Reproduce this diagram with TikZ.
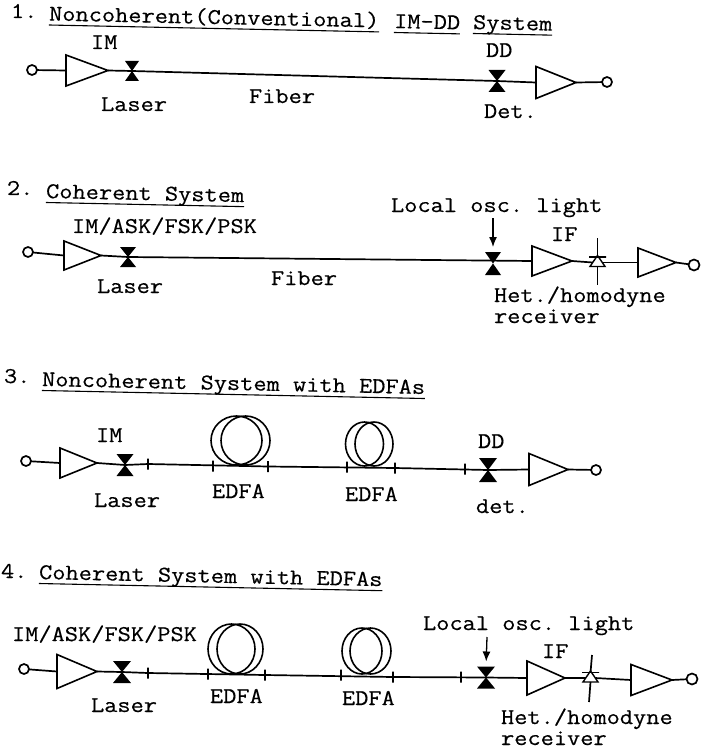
\documentclass[tikz,border=0pt]{standalone}
\usepackage{fontspec}
\setmonofont{Latin Modern Mono}[FakeStretch=1.14,FakeBold=0.4]
\usepackage{tikz}
\usetikzlibrary{arrows.meta,positioning,shapes.geometric}
\tikzset{
  lbl/.style={anchor=base west, inner sep=0pt, outer sep=0pt, font=\fontsize{22.5}{24}\selectfont\ttfamily},
  ttl/.style={lbl, rotate=-1.2, text depth=4.5pt},
  rule/.style={line width=1.1pt},
  wire/.style={line width=1.7pt},
  amp/.style 2 args={draw, line width=1.6pt, isosceles triangle, isosceles triangle stretches, inner sep=0pt, outer sep=0pt, minimum height=#1pt, minimum width=#2pt, anchor=west},
  port/.style={draw, line width=1.7pt, circle, inner sep=0pt, outer sep=0pt, minimum size=10pt},
  bowtie/.style={inner sep=0pt, outer sep=0pt, minimum width=17pt, minimum height=22pt,
    path picture={\fill (path picture bounding box.north west) -- (path picture bounding box.north east)
      -- (path picture bounding box.south west) -- (path picture bounding box.south east) -- cycle;}},
  tick/.style={draw, line width=1.5pt, inner sep=0pt, outer sep=0pt, minimum width=0pt, minimum height=11pt},
  coil/.style={draw, line width=1.6pt, ellipse, inner sep=0pt, outer sep=0pt},
  diode/.style={draw, line width=1.4pt, isosceles triangle, isosceles triangle stretches, shape border rotate=90, inner sep=0pt, outer sep=0pt, minimum width=15pt, minimum height=11pt},
  dbar/.style={draw, line width=1.5pt, inner sep=0pt, outer sep=0pt, minimum width=17pt, minimum height=0pt},
  arr/.style={-{Latex[length=10pt,width=8pt]}, line width=1.3pt, shorten >=5pt}
}
\begin{document}
\begin{tikzpicture}[x=1pt,y=-1pt]
\useasboundingbox (0,0) rectangle (701,751);
\fill[white] (0,0) rectangle (701,751);

\node[lbl] (num1) at (11,18) {1.};
\node[ttl] (ttl1a) at (49,20.5) {Noncoherent(Conventional)};
\node[ttl] (ttl1b) at (394,28) {IM-DD};
\node[ttl] (ttl1c) at (473,29) {System};
\draw[rule] (ttl1a.south west) -- (ttl1a.south east);
\draw[rule] (ttl1b.south west) -- (ttl1b.south east);
\draw[rule] (ttl1c.south west) -- (ttl1c.south east);
\node[port] (in1) at (32,70) {};
\node[amp={42}{31}] (amp1a) at (66,70.5) {};
\node[bowtie, minimum width=14pt, minimum height=20pt] (las1) at (132,71) {};
\node[bowtie] (det1) at (497,81) {};
\node[amp={40}{32}] (amp1b) at (536,82.5) {};
\node[port] (out1) at (607,82) {};
\draw[wire] (in1) -- (amp1a.west);
\draw[wire] (amp1a.east) -- (las1.center) -- (det1.center) -- (amp1b.west);
\draw[wire] (amp1b.east) -- (out1);
\node[lbl] (im1) at (91,49) {IM};
\node[lbl] (laser1) at (101,111) {Laser};
\node[lbl] (fiber1) at (249,103) {Fiber};
\node[lbl] (dd1) at (486,57) {DD};
\node[lbl] (det1t) at (484,118) {Det.};

\node[lbl] (num2) at (7,195) {2.};
\node[ttl] (ttl2) at (46,198) {Coherent System};
\draw[rule] (ttl2.south west) -- (ttl2.south east);
\node[port] (in2) at (28,252) {};
\node[amp={37}{29}] (amp2a) at (64,255.5) {};
\node[bowtie, minimum width=16pt, minimum height=20pt] (las2) at (128,257) {};
\node[bowtie, minimum width=16pt, minimum height=23pt] (det2) at (493,263.5) {};
\node[amp={40}{30}] (amp2b) at (532,261) {};
\node[diode] (dio2) at (597.5,262.5) {};
\node[dbar] (bar2) at (597.5,257) {};
\node[amp={38}{29}] (amp2c) at (638,262.5) {};
\node[port, minimum width=8pt, minimum height=11pt] (out2) at (694,265) {};
\coordinate (osc2) at (493,218);
\coordinate (up2) at (597.5,238);
\coordinate (dn2) at (597.5,285);
\draw[wire] (in2) -- (amp2a.west);
\draw[wire] (amp2a.east) -- (las2.center) -- (amp2b.west);
\draw[wire] (amp2b.east) -- (dio2.west);
\draw[wire] (dio2.east) -- (amp2c.west);
\draw[wire] (amp2c.east) -- (out2);
\draw[arr] (osc2) -- (det2.north);
\draw[wire] (up2) -- (bar2);
\draw[wire] (dio2.south) -- (dn2);
\node[lbl] (mod2) at (72,233) {IM/ASK/FSK/PSK};
\node[lbl] (laser2) at (97,293) {Laser};
\node[lbl] (fiber2) at (271,285) {Fiber};
\node[lbl] (lo2) at (391,212) {Local osc. light};
\node[lbl] (if2) at (551,241) {IF};
\node[lbl] (het2) at (494,302) {Het./homodyne};
\node[lbl] (rx2) at (494,323) {receiver};

\node[lbl] (num3) at (4,383) {3.};
\node[ttl] (ttl3) at (42,386) {Noncoherent System with EDFAs};
\draw[rule] (ttl3.south west) -- (ttl3.south east);
\node[port] (in3) at (26,461) {};
\node[amp={37}{30}] (amp3a) at (60,463) {};
\node[bowtie] (las3) at (125,465) {};
\node[tick] (tk3a) at (148,464) {};
\node[tick] (tk3b) at (213,466) {};
\node[tick] (tk3c) at (268,466.5) {};
\node[tick] (tk3d) at (347,467) {};
\node[tick] (tk3e) at (395,468) {};
\node[tick] (tk3f) at (465,469) {};
\node[bowtie, minimum width=18pt, minimum height=24pt] (det3) at (488,470) {};
\node[amp={39}{32}] (amp3b) at (529,469.5) {};
\node[port] (out3) at (596,470) {};
\node[coil, minimum width=51pt, minimum height=49pt] (coil3a) at (236.5,440.5) {};
\node[coil, minimum width=49pt, minimum height=49pt] (coil3b) at (245.5,440.5) {};
\node[coil, minimum width=38pt, minimum height=44pt] (coil3c) at (364.5,444) {};
\node[coil, minimum width=38pt, minimum height=44pt] (coil3d) at (374,444) {};
\draw[wire] (in3) -- (amp3a.west);
\draw[wire] (amp3a.east) -- (las3.center) -- (tk3a.center) -- (tk3c.center) -- (tk3e.center) -- (det3.center) -- (amp3b.west);
\draw[wire] (amp3b.east) -- (out3);
\node[lbl] (im3) at (96,442) {IM};
\node[lbl] (laser3) at (94,507) {Laser};
\node[lbl] (edfa3a) at (212,498) {EDFA};
\node[lbl] (edfa3b) at (345,501) {EDFA};
\node[lbl] (dd3) at (478,448) {DD};
\node[lbl] (det3t) at (476,513) {det.};

\node[lbl] (num4) at (1,578) {4.};
\node[ttl] (ttl4) at (39,579) {Coherent System with EDFAs};
\draw[rule] (ttl4.south west) -- (ttl4.south east);
\node[port] (in4) at (24,669) {};
\node[amp={40}{34}] (amp4a) at (57,671.5) {};
\node[bowtie, minimum width=18pt] (las4) at (122,672) {};
\node[tick] (tk4a) at (148,673) {};
\node[tick] (tk4b) at (208,674) {};
\node[tick] (tk4c) at (265,675) {};
\node[tick] (tk4d) at (341,675) {};
\node[tick] (tk4e) at (393,677) {};
\node[tick] (tk4f) at (461,677) {};
\node[bowtie, minimum width=18pt] (det4) at (486,677.5) {};
\node[amp={38}{34}] (amp4b) at (527,678) {};
\node[diode] (dio4) at (590.5,678) {};
\node[dbar] (bar4) at (590.5,672.5) {};
\node[amp={41}{31}] (amp4c) at (631,680) {};
\node[port, minimum width=8pt, minimum height=11pt] (out4) at (692,679) {};
\node[coil, minimum width=47pt, minimum height=50pt] (coil4a) at (231.5,649) {};
\node[coil, minimum width=46pt, minimum height=50pt] (coil4b) at (240,649) {};
\node[coil, minimum width=40pt, minimum height=46pt] (coil4c) at (362,651) {};
\node[coil, minimum width=41pt, minimum height=46pt] (coil4d) at (370.5,651) {};
\coordinate (osc4) at (487,637);
\coordinate (up4) at (592,655);
\coordinate (dn4) at (589,702);
\draw[wire] (in4) -- (amp4a.west);
\draw[wire] (amp4a.east) -- (las4.center) -- (tk4a.center) -- (tk4c.center) -- (tk4e.center) -- (det4.center) -- (amp4b.west);
\draw[wire] (amp4b.east) -- (dio4.west);
\draw[wire] (dio4.east) -- (amp4c.west);
\draw[wire] (amp4c.east) -- (out4);
\draw[arr] (osc4) -- (det4.north);
\draw[wire] (up4) -- (bar4);
\draw[wire] (dio4.south) -- (dn4);
\node[lbl] (mod4) at (12,641) {IM/ASK/FSK/PSK};
\node[lbl] (laser4) at (91,712) {Laser};
\node[lbl] (edfa4a) at (210,703) {EDFA};
\node[lbl] (edfa4b) at (342,705) {EDFA};
\node[lbl] (lo4) at (423,630) {Local osc. light};
\node[lbl] (if4) at (542,658) {IF};
\node[lbl] (het4) at (501,724) {Het./homodyne};
\node[lbl] (rx4) at (501,745) {receiver};
\end{tikzpicture}
\end{document}
